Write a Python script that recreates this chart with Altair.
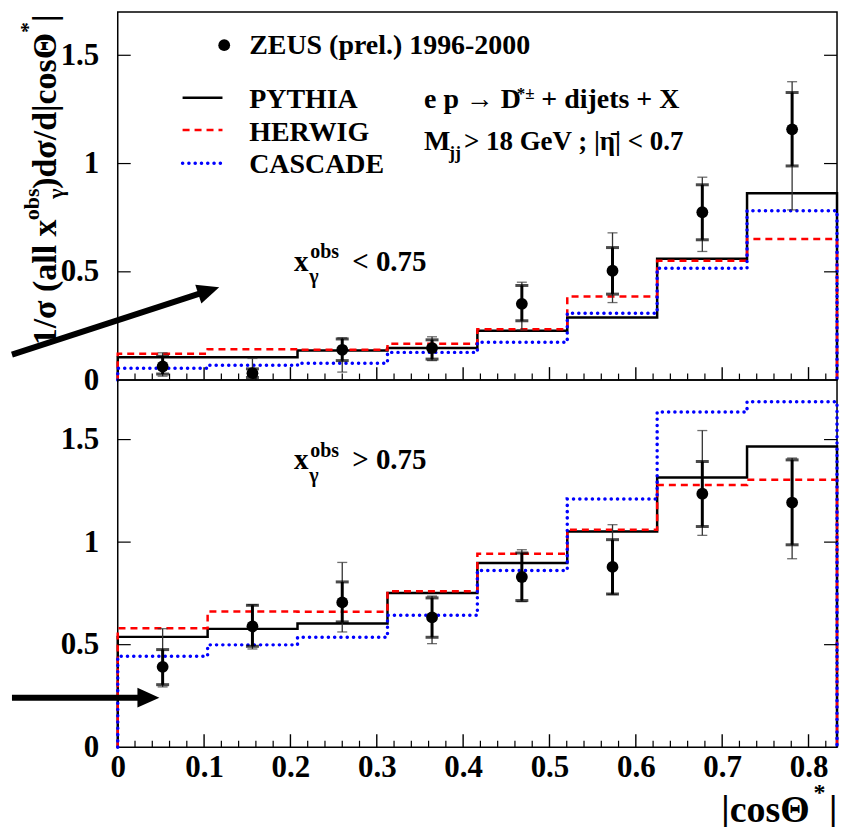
import altair as alt
import pandas as pd

FONT = "Liberation Serif"

# ---------------- data ----------------
bin_edges = [0.0, 0.1041, 0.2082, 0.3124, 0.4165, 0.5206, 0.6247, 0.7288, 0.833]
bin_centres = [0.052, 0.156, 0.260, 0.364, 0.468, 0.573, 0.677, 0.781]

# upper panel : x_gamma^obs < 0.75
lo_data = [0.063, 0.032, 0.140, 0.148, 0.352, 0.505, 0.775, 1.158]
lo_stat_low = [0.028, 0.012, 0.090, 0.097, 0.274, 0.397, 0.648, 0.989]
lo_stat_high = [0.110, 0.052, 0.190, 0.186, 0.437, 0.612, 0.902, 1.328]
lo_tot_low = [0.018, 0.000, 0.037, 0.090, 0.232, 0.358, 0.594, 0.786]
lo_tot_high = [0.126, 0.100, 0.195, 0.200, 0.452, 0.680, 0.937, 1.378]
lo_pythia = [0.105, 0.105, 0.137, 0.148, 0.228, 0.289, 0.560, 0.863]
lo_herwig = [0.122, 0.143, 0.140, 0.168, 0.235, 0.386, 0.551, 0.652]
lo_cascade = [0.055, 0.068, 0.078, 0.128, 0.175, 0.309, 0.517, 0.782]

# lower panel : x_gamma^obs > 0.75
hi_data = [0.392, 0.589, 0.706, 0.633, 0.830, 0.879, 1.236, 1.193]
hi_stat_low = [0.305, 0.492, 0.611, 0.536, 0.715, 0.747, 1.076, 0.987]
hi_stat_high = [0.476, 0.692, 0.806, 0.728, 0.947, 1.012, 1.393, 1.401]
hi_tot_low = [0.294, 0.479, 0.562, 0.505, 0.710, 0.745, 1.033, 0.919]
hi_tot_high = [0.578, 0.695, 0.901, 0.737, 0.963, 1.085, 1.544, 1.410]
hi_pythia = [0.538, 0.577, 0.603, 0.752, 0.898, 1.052, 1.315, 1.466]
hi_herwig = [0.580, 0.662, 0.660, 0.760, 0.943, 1.060, 1.278, 1.304]
hi_cascade = [0.443, 0.499, 0.536, 0.643, 0.862, 1.210, 1.635, 1.685]

x_major_ticks = [0.1, 0.2, 0.3, 0.4, 0.5, 0.6, 0.7, 0.8]
x_minor_ticks = [0.02, 0.04, 0.06, 0.08, 0.12, 0.14, 0.16, 0.18, 0.22, 0.24, 0.26, 0.28,
                 0.32, 0.34, 0.36, 0.38, 0.42, 0.44, 0.46, 0.48, 0.52, 0.54, 0.56, 0.58,
                 0.62, 0.64, 0.66, 0.68, 0.72, 0.74, 0.76, 0.78, 0.82]
x_labels = [0, 0.1, 0.2, 0.3, 0.4, 0.5, 0.6, 0.7, 0.8]
y_labels = [0, 0.5, 1, 1.5]
y_ticks = [0.5, 1, 1.5]

W = 721
H_TOP = 369
H_BOT = 368
XS = alt.Scale(domain=[0, 0.833], nice=False, zero=False)
YS_TOP = alt.Scale(domain=[0, 1.70], nice=False, zero=False)
YS_BOT = alt.Scale(domain=[0, 1.79], nice=False, zero=False)

STYLES = {
    "PYTHIA": dict(color="black", strokeWidth=2.5),
    "HERWIG": dict(color="#ff0000", strokeWidth=2.5, strokeDash=[7, 5]),
    "CASCADE": dict(color="#0000ff", strokeWidth=3.5, strokeDash=[0.1, 6.2], strokeCap="round"),
}

Y_AXIS = alt.Axis(values=y_labels, format="~g", labelFont=FONT, labelFontSize=31,
                  labelFontWeight="bold", labelColor="black", labelPadding=19,
                  ticks=False, domain=False, grid=False, title=None, labelOverlap=False)
X_AXIS_BOT = alt.Axis(values=x_labels, format="~g", labelFont=FONT, labelFontSize=31,
                      labelFontWeight="bold", labelColor="black", labelPadding=5,
                      ticks=False, domain=False, grid=False, title=None,
                      labelOverlap=False, labelFlush=False)


class Panel:
    def __init__(self, ys, xaxis):
        self.ys = ys
        self.xaxis = xaxis

    def X(self, f):
        return alt.X(f, type="quantitative", scale=XS, axis=self.xaxis)

    def Y(self, f):
        return alt.Y(f, type="quantitative", scale=self.ys, axis=Y_AXIS)


def hist_df(vals):
    xs_ = [bin_edges[0]] + bin_edges[:8] + [bin_edges[8], bin_edges[8]]
    ys_ = [0.0] + list(vals) + [vals[-1], 0.0]
    return pd.DataFrame({"x": xs_, "y": ys_, "i": list(range(len(xs_)))})


def text(P, x, y, s, size, **kw):
    return alt.Chart(pd.DataFrame({"x": [x], "y": [y]})).mark_text(
        text=s, font=FONT, fontWeight="bold", fontSize=size, align="left",
        baseline="alphabetic", color="black", clip=False, **kw
    ).encode(x=P.X("x"), y=P.Y("y"))


def ptext(px, py, s, size, **kw):
    opts = dict(font=FONT, fontWeight="bold", fontSize=size, align="left",
                baseline="alphabetic", color="black")
    opts.update(kw)
    return alt.Chart(pd.DataFrame({"a": [0]})).mark_text(text=s, **opts).encode(
        x=alt.value(px), y=alt.value(py))


def panel(P, H, pyth, herw, casc, dat, slo, shi, tlo, thi):
    layers = []
    for name, vals in (("PYTHIA", pyth), ("HERWIG", herw), ("CASCADE", casc)):
        st = STYLES[name]
        layers.append(
            alt.Chart(hist_df(vals)).mark_line(interpolate="step-after", **st).encode(
                x=P.X("x"), y=P.Y("y"), order=alt.Order("i:Q"))
        )

    pts = pd.DataFrame({"x": bin_centres, "y": dat, "slo": slo, "shi": shi,
                        "tlo": tlo, "thi": thi})
    layers.append(alt.Chart(pts).mark_rule(color="#333333", strokeWidth=1.3, clip=True).encode(
        x=P.X("x"), y=P.Y("tlo"), y2="thi:Q"))
    layers.append(alt.Chart(pts).mark_rule(color="black", strokeWidth=3, clip=True).encode(
        x=P.X("x"), y=P.Y("slo"), y2="shi:Q"))
    for col in ("tlo", "thi"):
        layers.append(alt.Chart(pts).mark_point(shape="stroke", size=100, strokeWidth=1.3,
                                                color="#333333", clip=True).encode(
            x=P.X("x"), y=P.Y(col)))
    for col in ("slo", "shi"):
        layers.append(alt.Chart(pts).mark_point(shape="stroke", size=169, strokeWidth=3,
                                                color="black", clip=True).encode(
            x=P.X("x"), y=P.Y(col)))
    layers.append(alt.Chart(pts).mark_point(shape="circle", filled=True, size=140,
                                            color="black", opacity=1).encode(
        x=P.X("x"), y=P.Y("y")))

    # inward ticks
    layers.append(alt.Chart(pd.DataFrame({"x": x_major_ticks})).mark_rule(
        color="black", strokeWidth=1.4).encode(
        x=P.X("x"), y=alt.value(H), y2=alt.value(H - 13)))
    layers.append(alt.Chart(pd.DataFrame({"x": x_minor_ticks})).mark_rule(
        color="black", strokeWidth=1.2).encode(
        x=P.X("x"), y=alt.value(H), y2=alt.value(H - 6.5)))
    layers.append(alt.Chart(pd.DataFrame({"y": y_ticks})).mark_rule(
        color="black", strokeWidth=1.2).encode(
        y=P.Y("y"), x=alt.value(0), x2=alt.value(13)))
    layers.append(alt.Chart(pd.DataFrame({"y": y_ticks})).mark_rule(
        color="black", strokeWidth=1.2).encode(
        y=P.Y("y"), x=alt.value(W), x2=alt.value(W - 13)))
    return layers


def arrow(P, x0, y0, x1, y1, ang):
    df = pd.DataFrame({"x": [x0], "y": [y0], "x2": [x1], "y2": [y1]})
    shaft = alt.Chart(df).mark_rule(color="black", strokeWidth=6, strokeCap="butt",
                                    clip=False).encode(
        x=P.X("x"), y=P.Y("y"), x2="x2:Q", y2="y2:Q")
    head = alt.Chart(df).mark_point(shape="M-1,-0.9L1,0L-1,0.9Z", size=484, filled=True,
                                    color="black", opacity=1, strokeWidth=0,
                                    angle=ang, clip=False).encode(
        x=P.X("x2"), y=P.Y("y2"))
    return [shaft, head]


def legend_line(P, y, name):
    st = STYLES[name]
    df = pd.DataFrame({"x": [0.0751], "x2": [0.1213], "y": [y]})
    return alt.Chart(df).mark_rule(**st).encode(x=P.X("x"), x2="x2:Q", y=P.Y("y"))


# ---------------- upper panel ----------------
PT = Panel(YS_TOP, None)
top_layers = panel(PT, H_TOP, lo_pythia, lo_herwig, lo_cascade, lo_data,
                   lo_stat_low, lo_stat_high, lo_tot_low, lo_tot_high)
top_layers += [
    alt.Chart(pd.DataFrame({"x": [0.1233], "y": [1.5466]})).mark_point(
        shape="circle", filled=True, size=140, color="black", opacity=1).encode(
        x=PT.X("x"), y=PT.Y("y")),
    text(PT, 0.1522, 1.508, "ZEUS (prel.) 1996-2000", 28),
    legend_line(PT, 1.3038, "PYTHIA"),
    legend_line(PT, 1.155, "HERWIG"),
    legend_line(PT, 1.0011, "CASCADE"),
    text(PT, 0.1522, 1.2577, "PYTHIA", 28),
    text(PT, 0.1522, 1.1057, "HERWIG", 28),
    text(PT, 0.1522, 0.955, "CASCADE", 28),
    text(PT, 0.3547, 1.2577, "e p \u2192 D", 28),
    text(PT, 0.4621, 1.299, "*\u00b1", 17),
    text(PT, 0.4905, 1.2577, "+ dijets + X", 28),
    text(PT, 0.3547, 1.0642, "M", 28),
    text(PT, 0.3836, 1.0228, "jj", 18),
    text(PT, 0.4009, 1.0642, "> 18 GeV ; |\u03b7\u0304| < 0.7", 27),
    text(PT, 0.2041, 0.5054, "x", 29),
    text(PT, 0.2230, 0.5634, "obs", 20),
    text(PT, 0.2218, 0.4469, "\u03b3", 20),
    text(PT, 0.2715, 0.5054, "< 0.75", 29),
    # y-axis title (rotated, built from pieces, chained from the top)
    ptext(-62, 2.5, "|", 34, angle=270, align="right"),
    ptext(-83, 10, "*", 22, angle=270, align="right"),
    ptext(-62, 21, ")d\u03c3/d|cos\u0398", 34, angle=270, align="right"),
    ptext(-79, 177, "obs", 22, angle=270, align="right"),
    ptext(-55, 177, "\u03b3", 22, angle=270, align="right"),
    ptext(-62, 208, "1/\u03c3 (all x", 34, angle=270, align="right"),
]
top_layers += arrow(PT, -0.1225, 0.1175, 0.1054, 0.4128, 342)
top = alt.layer(*top_layers).properties(width=W, height=H_TOP)

# ---------------- lower panel ----------------
PB = Panel(YS_BOT, X_AXIS_BOT)
bot_layers = panel(PB, H_BOT, hi_pythia, hi_herwig, hi_cascade, hi_data,
                   hi_stat_low, hi_stat_high, hi_tot_low, hi_tot_high)
bot_layers += [
    text(PB, 0.2041, 1.3555, "x", 29),
    text(PB, 0.2230, 1.4168, "obs", 20),
    text(PB, 0.2218, 1.2938, "\u03b3", 20),
    text(PB, 0.2715, 1.3555, "> 0.75", 29),
    # x-axis title
    ptext(605, 443, "|cos\u0398", 38),
    ptext(697.5, 421, "*", 24),
    ptext(713, 443, "|", 38),
]
bot_layers += arrow(PB, -0.1225, 0.2417, 0.0355, 0.2417, 0)
bottom = alt.layer(*bot_layers).properties(width=W, height=H_BOT)

chart = (
    alt.vconcat(top, bottom, spacing=0, bounds="flush")
    .resolve_scale(x="independent", y="independent")
    .properties(padding={"left": 0, "top": 2, "right": 0, "bottom": 0})
    .configure_view(stroke="black", strokeWidth=1.5)
)

chart.save("out.html", embed_options={"renderer": "svg", "actions": False})
